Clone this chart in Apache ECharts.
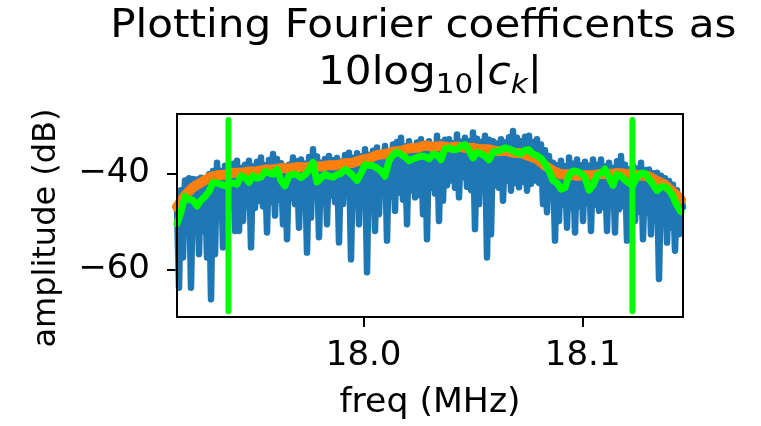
<!DOCTYPE html>
<html>
<head>
<meta charset="utf-8">
<script src="https://cdn.jsdelivr.net/npm/echarts@6/dist/echarts.min.js"></script>
<style>
  html, body { margin: 0; padding: 0; background: #ffffff; }
  #chart { width: 761px; height: 426px; }
</style>
</head>
<body>
<div id="chart"></div>
<script>
// Frequency grid of the spectrum (MHz): first bin and bin spacing
const fStart = 17.9148;
const fStep = 0.000913;

// 10*log10|c_k| per bin (dB)
const coeffDb = [
  -47.0, -63.8, -43.5, -57.5, -41.5, -47.5, -41.0, -63.8, -41.2, -48.0,
  -41.3, -56.8, -40.9, -52.0, -41.6, -57.5, -40.2, -66.2, -39.5, -56.8,
  -37.8, -46.5, -39.5, -55.4, -38.4, -53.3, -39.2, -47.0, -38.0, -52.0,
  -37.4, -52.0, -38.9, -49.9, -38.2, -46.8, -37.4, -55.4, -38.6, -47.2,
  -37.6, -45.7, -36.7, -46.9, -38.3, -52.3, -37.2, -46.0, -36.0, -48.8,
  -37.0, -45.5, -37.9, -50.6, -38.5, -53.7, -38.2, -45.2, -36.7, -46.4,
  -37.5, -51.3, -37.1, -45.8, -38.0, -56.5, -36.6, -49.2, -35.0, -44.8,
  -36.5, -53.3, -37.8, -45.3, -37.0, -50.6, -36.4, -44.6, -37.3, -46.0,
  -36.8, -54.4, -37.6, -46.4, -36.2, -44.5, -35.7, -57.9, -36.8, -44.0,
  -35.8, -50.6, -36.5, -44.2, -35.0, -60.6, -36.2, -45.0, -35.3, -52.0,
  -34.6, -48.5, -35.8, -43.8, -34.3, -54.0, -35.4, -44.9, -34.0, -47.8,
  -33.5, -44.0, -32.6, -45.5, -34.4, -50.6, -33.3, -43.5, -34.5, -45.0,
  -33.6, -44.5, -32.9, -48.5, -34.0, -53.7, -33.3, -43.0, -34.2, -44.2,
  -32.2, -49.9, -33.6, -45.7, -33.0, -42.5, -32.9, -41.5, -33.8, -43.0,
  -31.9, -45.0, -33.4, -40.8, -32.6, -42.8, -33.3, -43.5, -31.5, -51.6,
  -32.8, -46.4, -33.5, -42.0, -32.2, -57.5, -33.0, -52.7, -33.3, -42.5,
  -33.8, -43.0, -32.9, -45.7, -33.6, -41.5, -32.5, -43.6, -31.2, -42.0,
  -32.6, -42.9, -33.3, -41.8, -32.4, -43.6, -32.2, -42.2, -33.5, -41.5,
  -32.9, -42.0, -34.0, -46.4, -35.2, -48.1, -36.4, -45.0, -37.8, -54.0,
  -38.3, -49.9, -37.4, -46.5, -38.5, -51.3, -36.7, -47.2, -38.0, -52.3,
  -37.1, -46.8, -38.3, -49.9, -37.6, -46.2, -38.4, -52.0, -37.1, -46.5,
  -38.2, -47.8, -37.1, -47.0, -38.6, -52.0, -37.8, -46.6, -38.9, -52.3,
  -37.5, -47.5, -36.4, -46.8, -38.2, -54.0, -39.2, -47.4, -38.4, -49.9,
  -39.0, -48.0, -37.8, -53.7, -39.3, -48.2, -39.2, -52.7, -40.0, -47.8,
  -39.9, -62.0, -40.5, -48.5, -41.0, -54.4, -41.6, -51.3, -42.4, -56.1,
  -43.5, -52.7, -44.7, -47.0
];

// Wide smoothing (every 4th bin)
const smoothWideDb = [
  -47.0, -44.6, -42.9, -41.9, -40.9, -40.4, -40.3, -39.9, -39.9, -39.6,
  -39.6, -39.2, -39.2, -38.9, -39.0, -38.7, -38.8, -38.5, -38.6, -38.3,
  -38.3, -37.9, -37.8, -37.2, -36.9, -36.2, -36.0, -35.5, -35.3, -34.8,
  -34.7, -34.2, -34.5, -34.3, -34.6, -34.4, -34.7, -34.7, -35.0, -35.0,
  -35.4, -35.3, -35.7, -35.8, -36.4, -37.0, -38.4, -39.5, -40.2, -40.2,
  -40.5, -40.4, -40.4, -40.1, -40.2, -39.9, -40.1, -40.1, -40.5, -40.6,
  -41.6, -42.4, -43.9, -45.5
];

// Narrow smoothing (every 2nd bin)
const smoothNarrowDb = [
  -50.5, -48.0, -44.8, -45.5, -45.6, -46.8, -45.6, -44.8, -43.8, -41.9,
  -42.0, -42.3, -42.6, -42.0, -42.0, -42.3, -40.5, -40.8, -41.9, -40.5,
  -41.0, -40.8, -39.6, -39.9, -40.2, -39.2, -41.5, -42.6, -40.5, -40.2,
  -40.3, -40.9, -40.3, -39.3, -37.7, -41.8, -41.0, -40.2, -40.6, -40.8,
  -40.3, -40.0, -39.2, -39.7, -40.5, -41.5, -40.0, -38.2, -38.3, -38.4,
  -38.9, -39.5, -40.6, -37.4, -36.2, -35.6, -36.1, -36.6, -37.4, -37.0,
  -36.7, -36.4, -36.5, -37.0, -36.0, -36.2, -37.2, -34.9, -34.7, -35.1,
  -35.0, -34.3, -34.0, -35.2, -36.8, -35.6, -35.9, -36.4, -37.2, -35.6,
  -35.4, -35.2, -34.7, -34.9, -35.3, -35.7, -35.9, -35.2, -35.1, -36.0,
  -36.3, -36.9, -38.0, -39.5, -41.5, -42.0, -43.3, -43.0, -40.4, -39.5,
  -39.6, -40.0, -40.8, -43.5, -42.5, -40.4, -40.0, -39.1, -40.8, -42.5,
  -40.2, -40.6, -41.4, -42.1, -42.4, -40.8, -40.0, -40.0, -41.2, -42.3,
  -43.6, -42.8, -42.8, -43.5, -44.8, -46.7, -48.0
];

// Band edges (MHz) and the dB span of their markers
const bandEdges = [17.9383, 18.1227];
const bandMarkerDb = [-68.7, -28.9];

// Axis ticks
const xTicks = [18.0, 18.1];
const yTicks = [-60, -40];
const yRange = [-69.9, -27.65];

const FONT = '"DejaVu Sans"';
const BLUE = '#1f77b4', ORANGE = '#ff7f0e', LIME = '#00ff00';

const grid = { left: 177, top: 114, width: 506, height: 203 };

function onGrid(values, stride) {
  return values.map((v, i) => [fStart + i * stride * fStep, v]);
}

function lineSeries(data, color, width, z) {
  return {
    type: 'line', data: data, showSymbol: false, symbol: 'none',
    animation: false, silent: true, z: z, clip: true,
    lineStyle: { color: color, width: width, cap: 'round', join: 'round' }
  };
}

const series = [
  lineSeries(onGrid(coeffDb, 1), BLUE, 6.5, 2),
  lineSeries(onGrid(smoothWideDb, 4), ORANGE, 10, 3),
  lineSeries(onGrid(smoothNarrowDb, 2), LIME, 7, 4)
];
bandEdges.forEach(f => {
  series.push(lineSeries([[f, bandMarkerDb[0]], [f, bandMarkerDb[1]]], LIME, 6, 5));
});

// Text measuring for the composed title line
const mctx = document.createElement('canvas').getContext('2d');
function textWidth(text, font) { mctx.font = font; return mctx.measureText(text).width; }

const TITLE_SIZE = 39, SUB_SIZE = 27.3, TITLE_SX = 1.08;
const cx = grid.left + grid.width / 2;
const mid = (baseline, size) => baseline - 0.346 * size;

const line2 = [
  { t: '10log', size: TITLE_SIZE, style: 'normal', base: 87 },
  { t: '10', size: SUB_SIZE, style: 'normal', base: 95 },
  { t: '|', size: TITLE_SIZE, style: 'normal', base: 87 },
  { t: 'c', size: TITLE_SIZE, style: 'italic', base: 87 },
  { t: 'k', size: SUB_SIZE, style: 'italic', base: 95 },
  { t: '|', size: TITLE_SIZE, style: 'normal', base: 87 }
];
line2.forEach(p => { p.font = `${p.style} ${p.size}px ${FONT}`; p.w = textWidth(p.t, p.font); });
const line2W = line2.reduce((s, p) => s + p.w, 0);
let cursor = -line2W / 2;
const line2Children = line2.map(p => {
  const el = {
    type: 'text', x: cursor, y: mid(p.base, p.size),
    style: { text: p.t, font: p.font, fill: '#000', align: 'left', verticalAlign: 'middle' }
  };
  cursor += p.w;
  return el;
});

// First title line carries a trailing space, so it sits slightly left of centre
const line1 = 'Plotting Fourier coefficents as ';

const graphics = [
  {
    type: 'text', x: cx, y: mid(40.5, TITLE_SIZE), scaleX: TITLE_SX, z: 10,
    style: { text: line1, font: `${TITLE_SIZE}px ${FONT}`,
             fill: '#000', align: 'center', verticalAlign: 'middle' }
  },
  { type: 'group', x: cx, y: 0, scaleX: TITLE_SX, children: line2Children, z: 10 },
  {
    type: 'text', x: cx, y: mid(415, 33), scaleX: 1.05, z: 10,
    style: { text: 'freq (MHz)', font: `33px ${FONT}`, fill: '#000',
             align: 'center', verticalAlign: 'middle' }
  },
  {
    type: 'text', x: mid(58, 32), y: 228, rotation: Math.PI / 2, z: 10,
    style: { text: 'amplitude (dB)', font: `32px ${FONT}`, fill: '#000',
             align: 'center', verticalAlign: 'middle' }
  },
  {
    type: 'rect', z: 100, silent: true,
    shape: { x: grid.left, y: grid.top, width: grid.width, height: grid.height },
    style: { fill: 'none', stroke: '#000', lineWidth: 2 }
  }
];

const chart = echarts.init(document.getElementById('chart'), null, { renderer: 'canvas' });
chart.setOption({
  animation: false,
  backgroundColor: '#ffffff',
  grid: Object.assign({ containLabel: false }, grid),
  xAxis: {
    type: 'value', min: 'dataMin', max: 'dataMax',
    axisLine: { show: false },
    axisTick: { show: true, customValues: xTicks, length: 10, lineStyle: { color: '#000', width: 2 } },
    axisLabel: { customValues: xTicks, formatter: v => v.toFixed(1), fontSize: 34,
                 fontFamily: FONT, color: '#000', margin: 22 },
    splitLine: { show: false }
  },
  yAxis: {
    type: 'value', min: yRange[0], max: yRange[1],
    axisLine: { show: false },
    axisTick: { show: true, customValues: yTicks, length: 10, lineStyle: { color: '#000', width: 2 } },
    axisLabel: { customValues: yTicks, formatter: v => (v < 0 ? '\u2212' : '') + Math.abs(v),
                 fontSize: 34, fontFamily: FONT, color: '#000', margin: 27 },
    splitLine: { show: false }
  },
  series: series,
  graphic: graphics
});
</script>
</body>
</html>
